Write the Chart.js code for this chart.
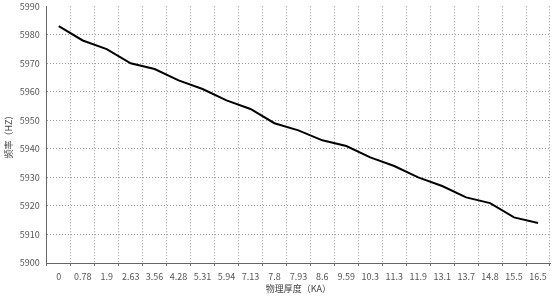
<!DOCTYPE html>
<html>
<head>
<meta charset="utf-8">
<script src="https://cdn.jsdelivr.net/npm/chart.js@4.4.0/dist/chart.umd.min.js"></script>
<style>
  html, body { margin: 0; padding: 0; background: #fff; }
  #wrap { width: 554px; height: 296px; }
</style>
</head>
<body>
<div id="wrap"><canvas id="freq-chart" width="554" height="296"></canvas></div>
<script>
// thickness categories (KA) and frequency values (Hz)
const thickness = ['0', '0.78', '1.9', '2.63', '3.56', '4.28', '5.31', '5.94', '7.13', '7.8', '7.93',
    '8.6', '9.59', '10.3', '11.3', '11.9', '13.1', '13.7', '14.8', '15.5', '16.5'];
const frequency = [5983, 5978, 5975, 5970, 5968, 5964, 5961, 5957, 5954, 5949, 5946.5,
    5943, 5941, 5937, 5934, 5930, 5927, 5923, 5921, 5916, 5914];
const yMin = 5900;
const yMax = 5990;
const yStep = 10;

const font = '"Noto Sans CJK SC", "DejaVu Sans", sans-serif';
const ctx = document.getElementById('freq-chart').getContext('2d');

new Chart(ctx, {
    type: 'line',
    data: {
        labels: thickness,
        datasets: [{
            data: frequency,
            borderColor: '#000',
            borderWidth: 2,
            pointRadius: 0,
            tension: 0,
            fill: false
        }]
    },
    options: {
        responsive: false,
        animation: false,
        layout: { padding: { top: 0, right: 4, left: 3, bottom: 3 } },
        scales: {
            x: {
                offset: true,
                grid: {
                    offset: true,
                    color: '#999',
                    lineWidth: 1,
                    tickColor: '#666',
                    tickLength: 3,
                    tickBorderDash: []
                },
                // in v4 the grid lines take their dash from border.dash
                border: { display: true, color: '#666', dash: [1, 2] },
                ticks: {
                    color: '#555',
                    font: { family: font, size: 9, lineHeight: 1 },
                    maxRotation: 0,
                    autoSkip: false,
                    padding: 6
                },
                title: {
                    display: true,
                    text: '物理厚度（KA）',
                    color: '#444',
                    font: { family: font, size: 9, lineHeight: 1 },
                    padding: { top: -3, bottom: 0 }
                }
            },
            y: {
                min: yMin,
                max: yMax,
                grid: {
                    // no dotted line along the top edge
                    color: c => (c.tick && c.tick.value === yMax) ? 'rgba(0,0,0,0)' : '#999',
                    tickLength: 3,
                    tickColor: 'rgba(0,0,0,0)'
                },
                border: { display: true, color: '#666', dash: [1, 2] },
                ticks: {
                    stepSize: yStep,
                    color: '#555',
                    font: { family: font, size: 9, lineHeight: 0.5 },
                    padding: 4,
                    callback: v => String(v)
                },
                title: {
                    display: true,
                    text: '频率（HZ）',
                    color: '#444',
                    font: { family: font, size: 9 },
                    padding: { top: 0, bottom: 2 }
                }
            }
        },
        plugins: {
            legend: { display: false },
            tooltip: { enabled: false }
        }
    }
});
</script>
</body>
</html>
